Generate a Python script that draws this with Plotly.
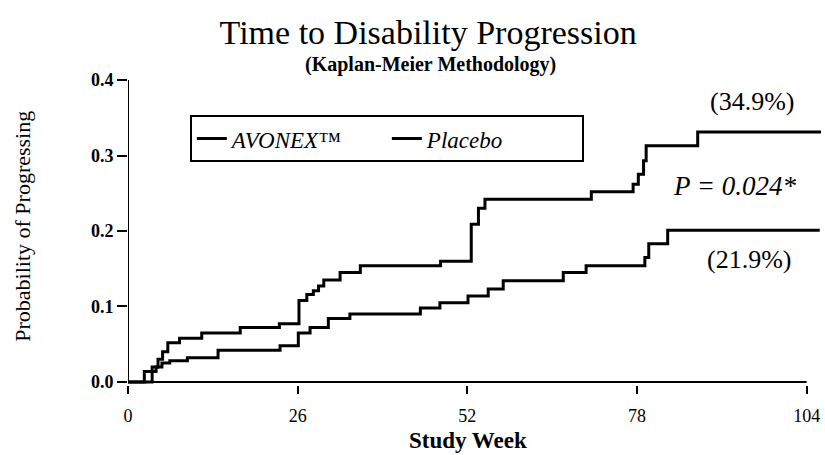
import plotly.graph_objects as go

# Kaplan-Meier step data
placebo_weeks = [0, 2.5, 3.7, 4.6, 5.3, 6.1, 7.9, 11.3, 17.2, 23.2, 26.2, 27.4, 28.4, 29.2, 30.0, 32.5, 35.6,
                 47.9, 52.6, 53.7, 54.7, 71.0, 77.4, 78.2, 79.0, 79.4, 87.3, 106.2]
placebo_prob = [0, 0.014, 0.020, 0.030, 0.040, 0.052, 0.058, 0.065, 0.072, 0.077, 0.108, 0.116, 0.121, 0.127,
                0.135, 0.145, 0.154, 0.160, 0.209, 0.230, 0.242, 0.252, 0.262, 0.275, 0.293, 0.313, 0.331, 0.331]

avonex_weeks = [0, 3.7, 4.3, 5.2, 6.4, 9.1, 13.8, 23.3, 26.1, 27.9, 30.7, 34.0, 44.8, 47.8, 52.1, 55.2, 57.5,
                66.7, 70.2, 79.2, 79.8, 82.7, 106.0]
avonex_prob = [0, 0.014, 0.020, 0.025, 0.028, 0.032, 0.042, 0.048, 0.065, 0.072, 0.084, 0.090, 0.098, 0.105,
               0.114, 0.123, 0.134, 0.145, 0.154, 0.165, 0.183, 0.201, 0.201]

x_ticks = [0, 26, 52, 78, 104]
y_ticks = [0.0, 0.1, 0.2, 0.3, 0.4]
y_tick_labels = ["0.0", "0.1", "0.2", "0.3", "0.4"]

SERIF = "Liberation Serif"

fig = go.Figure()
fig.add_trace(go.Scatter(x=avonex_weeks, y=avonex_prob, mode="lines", line_shape="hv",
                         line=dict(color="black", width=3), name="AVONEX™"))
fig.add_trace(go.Scatter(x=placebo_weeks, y=placebo_prob, mode="lines", line_shape="hv",
                         line=dict(color="black", width=3), name="Placebo"))

# axis lines (ending at 104 and 0.4)
fig.add_shape(type="line", xref="x", yref="y", x0=x_ticks[0], x1=x_ticks[-1], y0=0, y1=0,
              line=dict(color="black", width=2))
fig.add_shape(type="line", xref="x", yref="y", x0=0, x1=0, y0=y_ticks[0], y1=y_ticks[-1],
              line=dict(color="black", width=2))

fig.update_layout(
    width=825, height=455,
    margin=dict(l=128, r=2, t=80, b=70),
    paper_bgcolor="white", plot_bgcolor="white",
    font=dict(family=SERIF, color="black"),
    title=dict(text="Time to Disability Progression", x=0.519, y=0.93, xanchor="center", yanchor="middle",
               xref="container", yref="container", font=dict(family=SERIF, size=34, color="black")),
    xaxis=dict(range=[0, 106.5], tickvals=x_ticks, ticktext=[str(v) for v in x_ticks],
               showgrid=False, zeroline=False, showline=False, ticks="outside", ticklen=8, tickwidth=2,
               tickcolor="black", ticklabelstandoff=6,
               tickfont=dict(family=SERIF, size=18)),
    yaxis=dict(range=[-0.004, 0.4], tickvals=y_ticks, ticktext=y_tick_labels,
               showgrid=False, zeroline=False, showline=False, ticks="outside", ticklen=10, tickwidth=2,
               tickcolor="black", tickfont=dict(family=SERIF, size=18, weight="bold")),
    legend=dict(orientation="h", x=0.089, y=0.885, xanchor="left", yanchor="top",
                bordercolor="black", borderwidth=2, bgcolor="white",
                font=dict(family=SERIF, size=23, style="italic"), entrywidth=150,
                itemwidth=30),
    showlegend=True,
)

fig.add_annotation(text="(Kaplan-Meier Methodology)", xref="paper", yref="paper", x=0.435, y=1.05,
                   xanchor="center", yanchor="middle",
                   showarrow=False, font=dict(family=SERIF, size=20, weight="bold"))
fig.add_annotation(text="Probability of Progressing", xref="paper", yref="paper", x=-0.152, y=0.52,
                   xanchor="center", yanchor="middle",
                   textangle=-90, showarrow=False, font=dict(family=SERIF, size=22))
fig.add_annotation(text="Study Week", xref="paper", yref="paper", x=0.489, y=-0.183,
                   xanchor="center", yanchor="middle",
                   showarrow=False, font=dict(family=SERIF, size=23, weight="bold"))
fig.add_annotation(text="(34.9%)", xref="x", yref="y", x=95.6, y=0.371, showarrow=False,
                   font=dict(family=SERIF, size=26))
fig.add_annotation(text="P = 0.024*", xref="x", yref="y", x=93.0, y=0.259, showarrow=False,
                   font=dict(family=SERIF, size=27, style="italic"))
fig.add_annotation(text="(21.9%)", xref="x", yref="y", x=95.1, y=0.162, showarrow=False,
                   font=dict(family=SERIF, size=26))

fig.write_html("out.html")
